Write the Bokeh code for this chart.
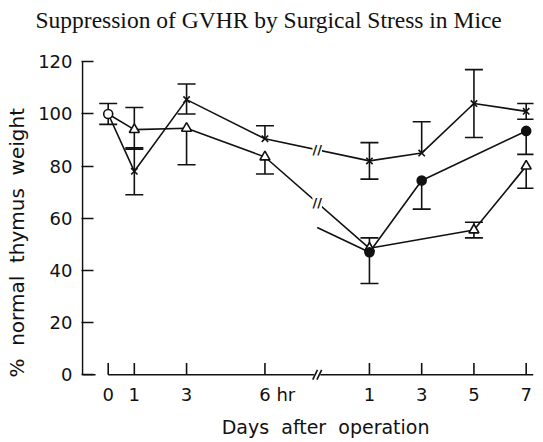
from bokeh.plotting import figure
from bokeh.models import FixedTicker, Whisker, TeeHead, ColumnDataSource, Label, Range1d
from bokeh.embed import file_html
from bokeh.resources import INLINE

# ---------------- data ----------------
hour_ticks = [0, 1, 3, 6]
day_ticks = [1, 3, 5, 7]
y_ticks = [0, 20, 40, 60, 80, 100, 120]

start_val = 100          # 0 hr, common start (open circle)
start_up = 4
start_lo = 4

cross_hours = [1, 3, 6]
cross_hour_vals = [78, 105.5, 90.5]
cross_hour_up = [9, 6, 5]
cross_hour_lo = [9, 5.5, 0]
cross_days = [1, 3, 5, 7]
cross_day_vals = [82, 85, 104, 101]
cross_day_up = [7, 12, 13, 3]
cross_day_lo = [7, 0, 13, 3]

tri_hours = [1, 3, 6]
tri_hour_vals = [94, 94.5, 83.5]
tri_hour_up = [8.5, 0, 0]
tri_hour_lo = [7.5, 14, 6.5]
tri_days = [1, 5, 7]
tri_day_vals = [48.5, 55.5, 80]
tri_day_up = [4, 3, 0]
tri_day_lo = [0, 3, 8.5]

dot_days = [1, 3, 7]
dot_day_vals = [47, 74.5, 93.5]
dot_day_up = [0, 0, 0]
dot_day_lo = [12, 11, 9]
dot_lead_val = 56.5      # value where the filled-circle line enters after the break

# ------------- broken time axis -------------
DAY_ORIGIN = 9.0   # axis position of "day 0" after the break
BREAK_POS = 8.0
X_START, X_END = -1.022, 16.28
Y_START, Y_END = -2.2, 120.5
AXIS_X = -0.984    # where the vertical axis line sits

def hpos(h):
    return float(h)

def dpos(d):
    return DAY_ORIGIN + d

def interp(x, xs, ys):
    for i in range(len(xs) - 1):
        if xs[i] <= x <= xs[i + 1]:
            t = (x - xs[i]) / (xs[i + 1] - xs[i])
            return ys[i] + t * (ys[i + 1] - ys[i])
    return ys[-1]

cross_x = [hpos(0)] + [hpos(h) for h in cross_hours] + [dpos(d) for d in cross_days]
cross_y = [start_val] + cross_hour_vals + cross_day_vals
tri_x = [hpos(0)] + [hpos(h) for h in tri_hours] + [dpos(d) for d in tri_days]
tri_y = [start_val] + tri_hour_vals + tri_day_vals
dot_x = [BREAK_POS] + [dpos(d) for d in dot_days]
dot_y = [dot_lead_val] + dot_day_vals

BLACK = "#111111"
LW = 1.6

p = figure(width=543, height=440,
           x_range=Range1d(X_START, X_END), y_range=Range1d(Y_START, Y_END),
           output_backend="svg", toolbar_location=None,
           min_border_left=81, min_border_right=10, min_border_top=60, min_border_bottom=56)
p.outline_line_color = None
p.grid.grid_line_color = None
p.background_fill_color = "white"
p.border_fill_color = "white"

# title (second, blank line lifts the title clear of the plot area)
p.title.text = "Suppression of GVHR by Surgical Stress in Mice\n\u00a0"
p.title.text_font = "Liberation Serif"
p.title.text_font_size = "23.5px"
p.title.text_font_style = "normal"
p.title.text_color = BLACK
p.title.align = "left"
p.title.vertical_align = "top"
p.title.standoff = 0
p.title.offset = -46

# hand-drawn style axis frame: vertical axis line and broken baseline
tick_pos = [hpos(h) for h in hour_ticks] + [dpos(d) for d in day_ticks]
p.segment(x0=[AXIS_X], y0=[0], x1=[AXIS_X], y1=[y_ticks[-1]], line_color=BLACK, line_width=LW)
p.segment(x0=[tick_pos[0], BREAK_POS + 0.12], y0=[0, 0],
          x1=[BREAK_POS - 0.12, X_END], y1=[0, 0], line_color=BLACK, line_width=LW)
p.segment(x0=[AXIS_X], y0=[0], x1=[AXIS_X + 0.5], y1=[0], line_color=BLACK, line_width=LW)
p.segment(x0=tick_pos, y0=[0] * len(tick_pos), x1=tick_pos, y1=[4.5] * len(tick_pos),
          line_color=BLACK, line_width=LW)
# "//" on the baseline
p.segment(x0=[BREAK_POS - 0.17, BREAK_POS - 0.01], y0=[-1.9, -1.9],
          x1=[BREAK_POS + 0.01, BREAK_POS + 0.17], y1=[1.9, 1.9],
          line_color=BLACK, line_width=LW)

# lines
for xs, ys in [(cross_x, cross_y), (tri_x, tri_y), (dot_x, dot_y)]:
    p.line(xs, ys, line_color=BLACK, line_width=LW)

# error bars
ex, ey, eu, el = [], [], [], []
def add_err(xs, ys, ups, los):
    for x, y, u, l in zip(xs, ys, ups, los):
        ex.append(x); ey.append(y); eu.append(u); el.append(l)

add_err([hpos(0)], [start_val], [start_up], [start_lo])
add_err([hpos(h) for h in cross_hours], cross_hour_vals, cross_hour_up, cross_hour_lo)
add_err([dpos(d) for d in cross_days], cross_day_vals, cross_day_up, cross_day_lo)
add_err([hpos(h) for h in tri_hours], tri_hour_vals, tri_hour_up, tri_hour_lo)
add_err([dpos(d) for d in tri_days], tri_day_vals, tri_day_up, tri_day_lo)
add_err([dpos(d) for d in dot_days], dot_day_vals, dot_day_up, dot_day_lo)

up_src = ColumnDataSource(dict(
    x=[x for x, u in zip(ex, eu) if u > 0],
    lo=[y for y, u in zip(ey, eu) if u > 0],
    hi=[y + u for y, u in zip(ey, eu) if u > 0]))
lo_src = ColumnDataSource(dict(
    x=[x for x, l in zip(ex, el) if l > 0],
    lo=[y - l for y, l in zip(ey, el) if l > 0],
    hi=[y for y, l in zip(ey, el) if l > 0]))

CAP = 18
p.add_layout(Whisker(source=up_src, base="x", lower="lo", upper="hi", dimension="height",
                     line_color=BLACK, line_width=LW, lower_head=None,
                     upper_head=TeeHead(size=CAP, line_color=BLACK, line_width=LW)))
p.add_layout(Whisker(source=lo_src, base="x", lower="lo", upper="hi", dimension="height",
                     line_color=BLACK, line_width=LW, upper_head=None,
                     lower_head=TeeHead(size=CAP, line_color=BLACK, line_width=LW)))

# markers
p.scatter([hpos(h) for h in cross_hours] + [dpos(d) for d in cross_days],
          cross_hour_vals + cross_day_vals, marker="x", size=9,
          line_color=BLACK, line_width=LW)
p.scatter([hpos(h) for h in tri_hours] + [dpos(d) for d in tri_days],
          tri_hour_vals + tri_day_vals, marker="triangle", size=10,
          line_color=BLACK, fill_color="white", line_width=LW)
p.scatter([dpos(d) for d in dot_days], dot_day_vals, marker="circle", size=9,
          line_color=BLACK, fill_color=BLACK, line_width=LW)
p.scatter([hpos(0)], [start_val], marker="circle", size=9,
          line_color=BLACK, fill_color="white", line_width=LW)

# break marks "//" on the two broken lines
for xs, ys in [(cross_x, cross_y), (tri_x, tri_y)]:
    p.add_layout(Label(x=BREAK_POS, y=interp(BREAK_POS, xs, ys), text="//",
                       text_font="DejaVu Sans", text_font_size="13px", text_font_style="bold",
                       text_align="center", text_baseline="middle", text_color=BLACK,
                       background_fill_color="white", padding=0))

# axes
tick_lab = [str(h) for h in hour_ticks] + [str(d) for d in day_ticks]
tick_lab[len(hour_ticks) - 1] = "\u2007\u2007\u200a" + tick_lab[len(hour_ticks) - 1] + " hr"
p.xaxis.ticker = FixedTicker(ticks=tick_pos)
p.xaxis.major_label_overrides = {t: l for t, l in zip(tick_pos, tick_lab)}
p.yaxis.ticker = FixedTicker(ticks=y_ticks)

for ax in (p.xaxis[0], p.yaxis[0]):
    ax.axis_line_color = None
    ax.major_tick_line_color = BLACK
    ax.major_tick_line_width = LW
    ax.major_tick_in = 12
    ax.major_tick_out = 0
    ax.minor_tick_line_color = None
    ax.major_label_text_font = "DejaVu Sans"
    ax.major_label_text_font_size = "18px"
    ax.major_label_text_color = BLACK
    ax.axis_label_text_font = "DejaVu Sans"
    ax.axis_label_text_font_size = "19px"
    ax.axis_label_text_font_style = "normal"
    ax.axis_label_text_color = BLACK

NB = "\u00a0"
p.xaxis.major_tick_line_color = None
p.xaxis.major_label_standoff = 3
p.xaxis.axis_label = NB * 6 + "Days" + NB + " after" + NB + " operation"
p.xaxis.axis_label_standoff = 8
p.yaxis.major_label_standoff = 9
p.yaxis.axis_label = "%" + NB + " normal" + NB + " thymus" + NB + " weight" + NB * 7
p.yaxis.axis_label_text_font_size = "20px"
p.yaxis.axis_label_standoff = 6

open("out.html", "w").write(file_html(p, INLINE))
